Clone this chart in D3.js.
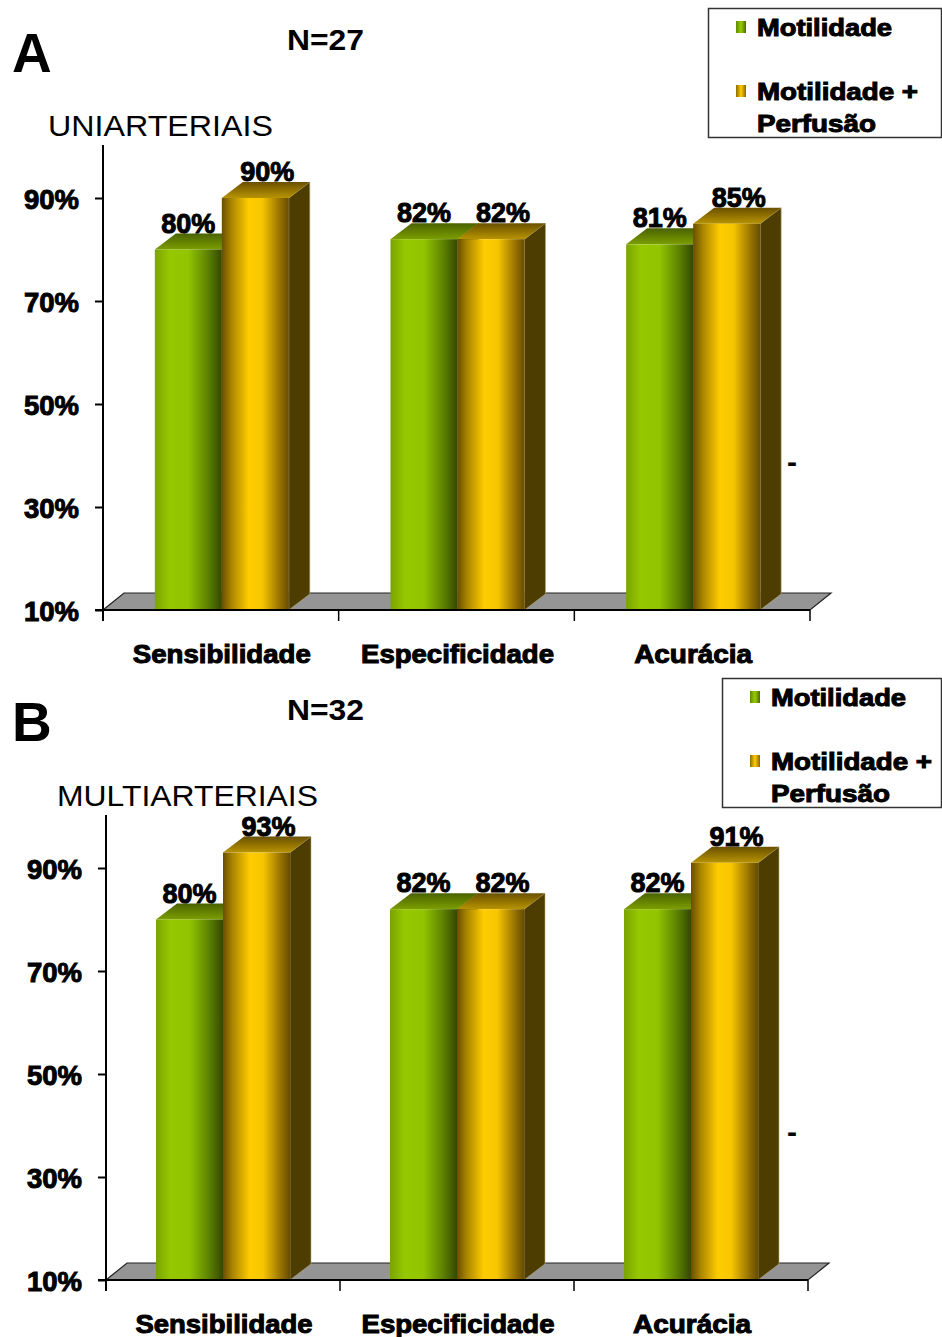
<!DOCTYPE html>
<html>
<head>
<meta charset="utf-8">
<script src="https://cdn.jsdelivr.net/npm/d3@7"></script>
<style>
html,body{margin:0;padding:0;background:#fff;}
svg{display:block;}
text{font-family:"Liberation Sans",Arial,sans-serif;}
</style>
</head>
<body>
<svg id="chart" width="942" height="1337"></svg>
<script>
// ---- data ----
const categories = ["Sensibilidade", "Especificidade", "Acurácia"];
const seriesNames = ["Motilidade", "Motilidade + Perfusão"];
const uniMotilidade = [80, 82, 81];
const uniMotPerfusao = [90, 82, 85];
const multiMotilidade = [80, 82, 82];
const multiMotPerfusao = [93, 82, 91];
const yTicks = [10, 30, 50, 70, 90];
const panelLetters = ["A", "B"];
const nLabels = ["N=27", "N=32"];
const groupTitles = ["UNIARTERIAIS", "MULTIARTERIAIS"];

// ---- layout ----
const svg = d3.select("#chart");
const defs = svg.append("defs");

function grad(id, stops, vertical) {
  const g = defs.append("linearGradient").attr("id", id)
    .attr("x1", 0).attr("y1", 0).attr("x2", vertical ? 0 : 1).attr("y2", vertical ? 1 : 0);
  stops.forEach(s => g.append("stop").attr("offset", s[0]).attr("stop-color", s[1]));
}
grad("gFront", [[0, "#7aa400"], [0.22, "#96c800"], [0.5, "#92c400"], [0.78, "#5f8400"], [1, "#344800"]]);
grad("yFront", [[0, "#6a4e00"], [0.14, "#a88400"], [0.4, "#ffcc00"], [0.6, "#f7c600"], [0.85, "#9c7600"], [1, "#664c00"]]);
grad("gTop", [[0, "#4a6200"], [1, "#7c9e00"]], true);
grad("yTop", [[0, "#6a5000"], [1, "#b89400"]], true);
grad("gLeg", [[0, "#5e8a00"], [0.5, "#99cc00"], [1, "#4c6a00"]]);
grad("yLeg", [[0, "#8a6a00"], [0.5, "#ffcc00"], [1, "#8a6400"]]);

const fills = [
  {front: "url(#gFront)", top: "url(#gTop)", side: "#3b4d00"},
  {front: "url(#yFront)", top: "url(#yTop)", side: "#4d3d00"}
];
const legendFills = ["url(#gLeg)", "url(#yLeg)"];

const panels = [
  {oy: 0, x0: 103, x1: 810, shift: 1, series: [uniMotilidade, uniMotPerfusao],
   titleX: 48, titleLen: 225, legX: 708, legW: 233, catLens: [178, 193, 118]},
  {oy: 670, x0: 106, x1: 808, shift: 0, series: [multiMotilidade, multiMotPerfusao],
   titleX: 57, titleLen: 261, legX: 722, legW: 219, catLens: [177, 193, 118]}
];

const dx = 21, dy = 16, barW = 67;
const heavy = sel => sel.attr("font-weight", "bold").attr("fill", "#000")
  .attr("stroke", "#000").attr("stroke-width", 1).attr("paint-order", "stroke");

panels.forEach((p, pi) => {
  const g = svg.append("g");
  const y = d3.scaleLinear().domain([10, 90]).range([610 + p.oy, 198 + p.oy]);
  const x = d3.scaleBand().domain(categories).range([p.x0, p.x1]);
  const y0 = y(10);

  // panel letter, N, title
  g.append("text").attr("x", 12).attr("y", 72 + p.oy - (pi ? 1 : 0))
    .attr("font-size", 55).attr("font-weight", "bold").text(panelLetters[pi]);
  g.append("text").attr("x", 287).attr("y", 50 + p.oy).attr("font-size", 29)
    .attr("font-weight", "bold").attr("textLength", 77).attr("lengthAdjust", "spacingAndGlyphs")
    .text(nLabels[pi]);
  g.append("text").attr("x", p.titleX).attr("y", 136 + p.oy).attr("font-size", 29)
    .attr("textLength", p.titleLen).attr("lengthAdjust", "spacingAndGlyphs").text(groupTitles[pi]);

  // floor
  const fdx = 21, fdy = 17;
  g.append("polygon")
    .attr("points", [[p.x0, y0], [p.x1, y0], [p.x1 + fdx, y0 - fdy], [p.x0 + fdx, y0 - fdy]].map(d => d.join(",")).join(" "))
    .attr("fill", "#959595").attr("stroke", "#222").attr("stroke-width", 1.2);

  // bars
  categories.forEach((c, ci) => {
    const cx = x(c) + x.bandwidth() / 2 + p.shift;
    p.series.forEach((vals, si) => {
      const xa = cx - barW + si * barW, xb = xa + barW;
      const yt = y(vals[ci]);
      const f = fills[si];
      g.append("polygon")
        .attr("points", [[xb, yt], [xb + dx, yt - dy], [xb + dx, y0 - dy], [xb, y0]].map(d => d.join(",")).join(" "))
        .attr("fill", f.side).attr("stroke", "#b8ab80").attr("stroke-width", 0.6);
      g.append("polygon")
        .attr("points", [[xa, yt], [xb, yt], [xb + dx, yt - dy], [xa + dx, yt - dy]].map(d => d.join(",")).join(" "))
        .attr("fill", f.top);
      g.append("rect").attr("x", xa).attr("y", yt).attr("width", barW).attr("height", y0 - yt)
        .attr("fill", f.front);
    });
    p.series.forEach((vals, si) => {
      const xa = cx - barW + si * barW;
      const yt = y(vals[ci]);
      g.append("text").attr("x", xa + barW / 2 + (si ? 12 : 0)).attr("y", yt - dy - 1)
        .attr("text-anchor", "middle").attr("font-size", 28)
        .attr("textLength", 54).attr("lengthAdjust", "spacingAndGlyphs")
        .call(heavy).text(vals[ci] + "%");
    });
  });

  // y axis
  const yAxis = d3.axisLeft(y).tickValues(yTicks).tickSize(8).tickPadding(16).tickFormat(d => d + "%");
  const ya = g.append("g").attr("transform", `translate(${p.x0},0)`).call(yAxis);
  ya.select(".domain").remove();
  ya.selectAll(".tick line").attr("stroke", "#000").attr("stroke-width", 2);
  ya.selectAll(".tick text").attr("font-size", 28).attr("dy", "0.36em")
    .attr("font-family", "Liberation Sans, Arial, sans-serif")
    .attr("textLength", 55).attr("lengthAdjust", "spacingAndGlyphs").call(heavy);
  g.append("line").attr("x1", p.x0).attr("x2", p.x0).attr("y1", 145 + p.oy).attr("y2", y0 + 11)
    .attr("stroke", "#000").attr("stroke-width", 2);

  // x axis
  g.append("line").attr("x1", p.x0 - 8).attr("x2", p.x1).attr("y1", y0).attr("y2", y0)
    .attr("stroke", "#000").attr("stroke-width", 2.2);
  const bounds = categories.map(c => x(c)).concat([p.x1]);
  g.selectAll(".xt").data(bounds.slice(1)).enter().append("line")
    .attr("x1", d => d).attr("x2", d => d).attr("y1", y0).attr("y2", y0 + 11)
    .attr("stroke", "#000").attr("stroke-width", 1.5);
  g.selectAll(".xl").data(categories).enter().append("text")
    .attr("x", d => x(d) + x.bandwidth() / 2 + 1).attr("y", y0 + 53)
    .attr("text-anchor", "middle").attr("font-size", 25)
    .attr("textLength", (d, i) => p.catLens[i]).attr("lengthAdjust", "spacingAndGlyphs")
    .call(heavy).text(d => d);

  // stray dash
  g.append("text").attr("x", 792).attr("y", 472 + p.oy).attr("text-anchor", "middle")
    .attr("font-size", 30).attr("font-weight", "bold").text("-");

  // legend
  const lg = g.append("g");
  lg.append("rect").attr("x", p.legX + 0.5).attr("y", 8.5 + p.oy).attr("width", p.legW).attr("height", 129)
    .attr("fill", "#fff").attr("stroke", "#333").attr("stroke-width", 1.5);
  const lx = p.legX + 28;
  const lines = [[seriesNames[0]], ["Motilidade +", "Perfusão"]];
  const lens = [[135], [161, 119]];
  const baseY = [36, 100];
  lines.forEach((ls, i) => {
    lg.append("rect").attr("x", lx).attr("y", baseY[i] + p.oy - 15).attr("width", 10).attr("height", 12)
      .attr("fill", legendFills[i]);
    ls.forEach((t, j) => {
      lg.append("text").attr("x", lx + 21).attr("y", baseY[i] + p.oy + j * 32)
        .attr("font-size", 24).attr("textLength", lens[i][j]).attr("lengthAdjust", "spacingAndGlyphs")
        .call(heavy).text(t);
    });
  });
});
</script>
</body>
</html>
